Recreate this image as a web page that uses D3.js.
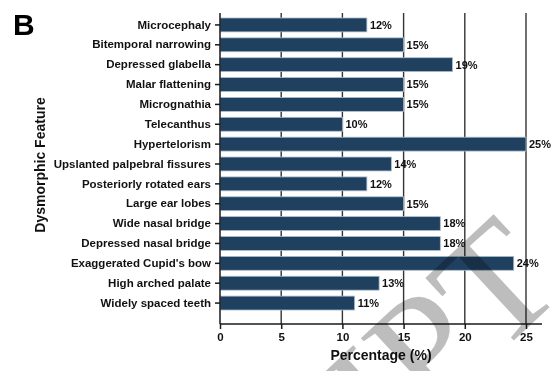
<!DOCTYPE html>
<html>
<head>
<meta charset="utf-8">
<script src="https://cdn.jsdelivr.net/npm/d3@7"></script>
<style>
  html, body { margin: 0; padding: 0; background: #fff; }
  svg { display: block; }
  text { font-family: "Liberation Sans", Arial, sans-serif; }
</style>
</head>
<body>
<svg id="chart" width="560" height="371"></svg>
<script>
// Dysmorphic features and the share of patients showing each (%)
const features = [
  "Microcephaly",
  "Bitemporal narrowing",
  "Depressed glabella",
  "Malar flattening",
  "Micrognathia",
  "Telecanthus",
  "Hypertelorism",
  "Upslanted palpebral fissures",
  "Posteriorly rotated ears",
  "Large ear lobes",
  "Wide nasal bridge",
  "Depressed nasal bridge",
  "Exaggerated Cupid's bow",
  "High arched palate",
  "Widely spaced teeth"
];
const percentages = [12, 15, 19, 15, 15, 10, 25, 14, 12, 15, 18, 18, 24, 13, 11];
const xTicks = [0, 5, 10, 15, 20, 25];

const panelLabel = "B";
const xTitle = "Percentage (%)";
const yTitle = "Dysmorphic Feature";
const watermark = "MANUSCRIPT";

const svg = d3.select("#chart");

const plot = { left: 220, right: 542, top: 13, bottom: 324 };

const x = d3.scaleLinear().domain([0, 25]).range([plot.left, 526]);
const y = d3.scaleBand()
  .domain(features)
  .range([15, 313])
  .paddingInner(0.3)
  .paddingOuter(0.15);

const lineColor = "#1a1a1a";

// vertical grid lines at each tick (except 0, drawn by the y axis)
svg.append("g")
  .selectAll("line")
  .data(xTicks.filter(d => d > 0))
  .join("line")
  .attr("x1", d => x(d)).attr("x2", d => x(d))
  .attr("y1", plot.top).attr("y2", plot.bottom)
  .attr("stroke", "#333").attr("stroke-width", 1.4);

// bars
svg.append("g")
  .selectAll("rect")
  .data(features)
  .join("rect")
  .attr("x", x(0))
  .attr("y", d => y(d))
  .attr("width", (d, i) => x(percentages[i]) - x(0))
  .attr("height", y.bandwidth())
  .attr("fill", "#1f405f")
  .attr("stroke", "#aebfce")
  .attr("stroke-width", 0.8);

// value labels
svg.append("g")
  .selectAll("text")
  .data(features)
  .join("text")
  .attr("x", (d, i) => x(percentages[i]) + 3)
  .attr("y", d => y(d) + y.bandwidth() / 2)
  .attr("dy", "0.35em")
  .attr("font-size", 11)
  .attr("font-weight", "bold")
  .attr("fill", "#111")
  .text((d, i) => percentages[i] + "%");

// y axis
const yAxis = svg.append("g")
  .attr("transform", `translate(${plot.left},0)`)
  .call(d3.axisLeft(y).tickSize(5).tickPadding(4));
yAxis.select(".domain").remove();
yAxis.selectAll(".tick line").attr("stroke", lineColor).attr("stroke-width", 1.5);
yAxis.selectAll(".tick text")
  .attr("font-size", 11.5).attr("font-weight", "bold").attr("fill", "#111")
  .style("font-family", "'Liberation Sans', Arial, sans-serif");
svg.append("line")
  .attr("x1", plot.left).attr("x2", plot.left)
  .attr("y1", plot.top).attr("y2", plot.bottom)
  .attr("stroke", lineColor).attr("stroke-width", 1.5);

// x axis
const xAxis = svg.append("g")
  .attr("transform", `translate(0,${plot.bottom})`)
  .call(d3.axisBottom(x).tickValues(xTicks).tickSize(5).tickPadding(4));
xAxis.select(".domain").remove();
xAxis.selectAll(".tick line").attr("stroke", lineColor).attr("stroke-width", 1.5);
xAxis.selectAll(".tick text")
  .attr("font-size", 11.5).attr("font-weight", "bold").attr("fill", "#111")
  .style("font-family", "'Liberation Sans', Arial, sans-serif");
svg.append("line")
  .attr("x1", plot.left).attr("x2", plot.right)
  .attr("y1", plot.bottom).attr("y2", plot.bottom)
  .attr("stroke", lineColor).attr("stroke-width", 1.5);

// axis titles
svg.append("text")
  .attr("x", 381).attr("y", 360)
  .attr("text-anchor", "middle")
  .attr("font-size", 14).attr("font-weight", "bold").attr("fill", "#111")
  .text(xTitle);

svg.append("text")
  .attr("transform", "translate(45,165) rotate(-90)")
  .attr("text-anchor", "middle")
  .attr("font-size", 14).attr("font-weight", "bold").attr("fill", "#111")
  .text(yTitle);

// panel letter
svg.append("text")
  .attr("x", 13).attr("y", 35)
  .attr("font-size", 30).attr("font-weight", "bold").attr("fill", "#000")
  .text(panelLabel);

// diagonal watermark
svg.append("text")
  .attr("transform", "translate(568,290) rotate(-43)")
  .attr("text-anchor", "end")
  .attr("font-size", 162)
  .style("font-family", "'Liberation Serif', 'DejaVu Serif', serif")
  .attr("fill", "#9a9a9a")
  .attr("fill-opacity", 0.65)
  .style("mix-blend-mode", "multiply")
  .text(watermark);
</script>
</body>
</html>
